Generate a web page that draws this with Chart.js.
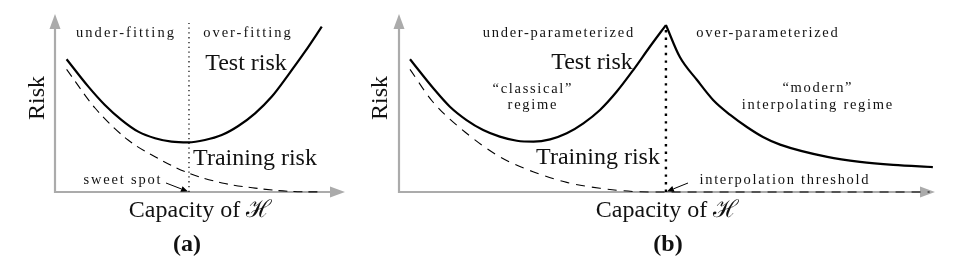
<!DOCTYPE html>
<html>
<head>
<meta charset="utf-8">
<script src="https://cdn.jsdelivr.net/npm/chart.js@4"></script>
<style>
  html, body { margin: 0; padding: 0; background: #ffffff; }
  #wrap { position: relative; width: 960px; height: 267px; overflow: hidden; background: #fff; }
  canvas { position: absolute; top: 0; }
  #cA { left: 0; }
  #cB { left: 360px; }
</style>
</head>
<body>
<div id="wrap">
  <canvas id="cA" width="480" height="267"></canvas>
  <canvas id="cB" width="600" height="267"></canvas>
</div>
<script>
// ---------- Data (capacity in % of axis length, risk in % of axis height) ----------
// Panel (a): classical U-shaped risk curve
const capacityTestA = [4.0, 11.5, 17.2, 23.0, 28.7, 34.5, 40.2, 46.0, 51.7, 57.5, 63.2, 69.0, 74.7, 80.4, 86.2, 92.0];
const testRiskA     = [74.6, 59.2, 48.9, 40.4, 33.9, 30.2, 28.3, 27.9, 29.2, 32.0, 37.1, 44.2, 53.5, 65.7, 78.8, 92.9];
const capacityTrainA = [4.0, 13.8, 25.2, 34.5, 45.9, 57.6, 69.0, 80.3, 92.1];
const trainRiskA     = [68.9, 47.2, 29.2, 19.8, 10.7, 5.1, 2.2, 0.4, 0.0];
const sweetSpotA = 46.2;
const dividerTopA = 95;

// Panel (b): double-descent risk curve
const capacityTestB = [2.05, 6.4, 9.5, 12.6, 15.7, 18.8, 22.0, 25.1, 28.2, 31.3, 34.4, 37.5, 40.6, 43.7, 46.8, 49.8,
                       52.4, 55.6, 58.6, 61.8, 64.9, 67.9, 71.1, 79.9, 86.0, 92.2, 99.6];
const testRiskB     = [74.6, 58.3, 47.9, 40.4, 34.8, 31.1, 28.8, 28.3, 29.6, 33.0, 38.6, 46.1, 56.3, 68.5, 81.6, 93.8,
                       75.8, 62.9, 51.7, 43.3, 36.5, 30.9, 26.6, 19.7, 16.9, 15.2, 14.0];
const capacityTrainB = [2.05, 6.3, 12.6, 18.8, 25.0, 31.3, 37.5, 43.7, 48.3, 99.0];
const trainRiskB     = [68.9, 50.7, 33.0, 19.8, 11.4, 5.4, 2.1, 0.3, 0.0, 0.0];
const thresholdB = 49.8;
const dividerTopB = 92;

const labelsA = {
  left: 'under-fitting', right: 'over-fitting', test: 'Test risk', train: 'Training risk',
  spot: 'sweet spot', yTitle: 'Risk', xTitle: 'Capacity of \u210B', panel: '(a)'
};
const labelsB = {
  left: 'under-parameterized', right: 'over-parameterized', test: 'Test risk', train: 'Training risk',
  classical: ['\u201Cclassical\u201D', 'regime'], modern: ['\u201Cmodern\u201D', 'interpolating regime'],
  thresh: 'interpolation threshold', yTitle: 'Risk', xTitle: 'Capacity of \u210B', panel: '(b)'
};

const zip = (xs, ys) => xs.map((x, i) => ({ x, y: ys[i] }));

// split test risk of (b) at its peak so the cusp stays sharp
const peakIdx = testRiskB.indexOf(Math.max(...testRiskB));
const testB1 = zip(capacityTestB.slice(0, peakIdx + 1), testRiskB.slice(0, peakIdx + 1));
const testB2 = zip(capacityTestB.slice(peakIdx), testRiskB.slice(peakIdx));

// ---------- drawing helpers ----------
const AXIS = '#ababab';
const BIG = '24px "Liberation Serif", "DejaVu Serif", serif';
const SMALL = '14.5px "Liberation Serif", "DejaVu Serif", serif';

function drawAxes(chart) {
  const { ctx } = chart;
  const xs = chart.scales.x, ys = chart.scales.y;
  const x0 = xs.getPixelForValue(0), x1 = xs.getPixelForValue(100);
  const y0 = ys.getPixelForValue(0), y1 = ys.getPixelForValue(100);
  ctx.save();
  ctx.strokeStyle = AXIS; ctx.fillStyle = AXIS; ctx.lineWidth = 2.2;
  ctx.beginPath();
  ctx.moveTo(x0, y1 + 10); ctx.lineTo(x0, y0); ctx.lineTo(x1 - 10, y0);
  ctx.stroke();
  ctx.beginPath();
  ctx.moveTo(x1, y0); ctx.lineTo(x1 - 15, y0 - 5.5); ctx.lineTo(x1 - 15, y0 + 5.5); ctx.closePath(); ctx.fill();
  ctx.beginPath();
  ctx.moveTo(x0, y1); ctx.lineTo(x0 - 5.5, y1 + 15); ctx.lineTo(x0 + 5.5, y1 + 15); ctx.closePath(); ctx.fill();
  ctx.restore();
}

function text(ctx, s, x, y, font, spacing) {
  ctx.save();
  ctx.font = font;
  ctx.fillStyle = '#111';
  ctx.textAlign = 'center';
  ctx.textBaseline = 'middle';
  try { ctx.letterSpacing = (spacing || 0) + 'px'; } catch (e) {}
  ctx.fillText(s, x + (spacing || 0) / 2, y);
  ctx.restore();
}

function vtext(ctx, s, x, y, font) {
  ctx.save();
  ctx.translate(x, y);
  ctx.rotate(-Math.PI / 2);
  ctx.font = font; ctx.fillStyle = '#111';
  ctx.textAlign = 'center'; ctx.textBaseline = 'middle';
  ctx.fillText(s, 0, 0);
  ctx.restore();
}

function pointer(ctx, xa, ya, xb, yb) {
  ctx.save();
  ctx.strokeStyle = '#000'; ctx.fillStyle = '#000'; ctx.lineWidth = 1;
  const ang = Math.atan2(yb - ya, xb - xa);
  const L = 7, W = 3;
  const bx = xb - L * Math.cos(ang), by = yb - L * Math.sin(ang);
  ctx.beginPath(); ctx.moveTo(xa, ya); ctx.lineTo(bx, by); ctx.stroke();
  ctx.beginPath();
  ctx.moveTo(xb, yb);
  ctx.lineTo(bx + W * Math.sin(ang), by - W * Math.cos(ang));
  ctx.lineTo(bx - W * Math.sin(ang), by + W * Math.cos(ang));
  ctx.closePath(); ctx.fill();
  ctx.restore();
}

const axesPlugin = { id: 'arrowAxes', beforeDatasetsDraw(chart) { drawAxes(chart); } };

const textPluginA = {
  id: 'textA',
  afterDraw(chart) {
    const ctx = chart.ctx;
    const X = v => chart.scales.x.getPixelForValue(v);
    const Y = v => chart.scales.y.getPixelForValue(v);
    text(ctx, labelsA.left, 125, 33, SMALL, 2.1);
    text(ctx, labelsA.right, 247, 33, SMALL, 2.0);
    text(ctx, labelsA.test, 246, 64, BIG);
    text(ctx, labelsA.train, 255, 159, BIG);
    text(ctx, labelsA.spot, 122, 180, SMALL, 1.8);
    pointer(ctx, 166, 183, X(sweetSpotA) - 1, Y(0) - 0.5);
    vtext(ctx, labelsA.yTitle, 38, 98, BIG);
    text(ctx, labelsA.xTitle, 200, 211, BIG);
    text(ctx, labelsA.panel, 187, 245, 'bold ' + BIG);
  }
};

const textPluginB = {
  id: 'textB',
  afterDraw(chart) {
    const ctx = chart.ctx;
    const X = v => chart.scales.x.getPixelForValue(v);
    const Y = v => chart.scales.y.getPixelForValue(v);
    const o = 360;
    text(ctx, labelsB.left, 558 - o, 33, SMALL, 1.7);
    text(ctx, labelsB.right, 767 - o, 33, SMALL, 1.7);
    text(ctx, labelsB.test, 592 - o, 63, BIG);
    text(ctx, labelsB.train, 598 - o, 158, BIG);
    text(ctx, labelsB.classical[0], 532 - o, 89, SMALL, 1.7);
    text(ctx, labelsB.classical[1], 532 - o, 105, SMALL, 1.7);
    text(ctx, labelsB.modern[0], 817 - o, 88, SMALL, 1.7);
    text(ctx, labelsB.modern[1], 817 - o, 105, SMALL, 1.7);
    text(ctx, labelsB.thresh, 784 - o, 180, SMALL, 1.7);
    pointer(ctx, 688 - o, 183, X(thresholdB) + 1, Y(0) - 0.5);
    vtext(ctx, labelsB.yTitle, 381 - o, 98, BIG);
    text(ctx, labelsB.xTitle, 667 - o, 211, BIG);
    text(ctx, labelsB.panel, 668 - o, 245, 'bold ' + BIG);
  }
};

const baseScales = {
  x: { type: 'linear', min: 0, max: 100, display: false },
  y: { type: 'linear', min: 0, max: 100, display: false }
};

const curve = (data, opts) => Object.assign({
  data, borderColor: '#000', borderWidth: 2.2, pointRadius: 0, fill: false,
  cubicInterpolationMode: 'monotone', clip: false
}, opts);

new Chart(document.getElementById('cA'), {
  type: 'line',
  data: {
    datasets: [
      curve(zip(capacityTrainA, trainRiskA), { label: 'Training risk', borderWidth: 1.1, borderDash: [9, 6] }),
      curve([{ x: sweetSpotA, y: 0 }, { x: sweetSpotA, y: dividerTopA }], { label: 'divider', borderWidth: 1.2, borderDash: [1.3, 3.5], cubicInterpolationMode: 'default', tension: 0 }),
      curve(zip(capacityTestA, testRiskA), { label: 'Test risk' })
    ]
  },
  options: {
    responsive: false, animation: false, events: [],
    layout: { padding: { left: 55, right: 135, top: 14, bottom: 75 } },
    scales: baseScales,
    plugins: { legend: { display: false }, tooltip: { enabled: false } }
  },
  plugins: [axesPlugin, textPluginA]
});

new Chart(document.getElementById('cB'), {
  type: 'line',
  data: {
    datasets: [
      curve(zip(capacityTrainB, trainRiskB), { label: 'Training risk', borderWidth: 1.1, borderDash: [9, 7] }),
      curve([{ x: thresholdB, y: 0 }, { x: thresholdB, y: dividerTopB }], { label: 'threshold', borderWidth: 2.4, borderDash: [2.4, 5.2], cubicInterpolationMode: 'default', tension: 0 }),
      curve(testB1, { label: 'Test risk (under)' }),
      curve(testB2, { label: 'Test risk (over)' })
    ]
  },
  options: {
    responsive: false, animation: false, events: [],
    layout: { padding: { left: 39, right: 25, top: 14, bottom: 75 } },
    scales: baseScales,
    plugins: { legend: { display: false }, tooltip: { enabled: false } }
  },
  plugins: [axesPlugin, textPluginB]
});
</script>
</body>
</html>
